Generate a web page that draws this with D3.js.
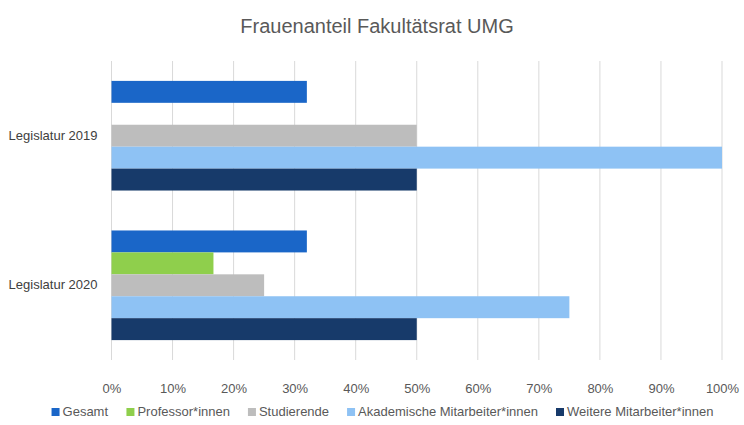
<!DOCTYPE html>
<html>
<head>
<meta charset="utf-8">
<script src="https://cdn.jsdelivr.net/npm/d3@7"></script>
<style>
  body { margin: 0; background: #fff; }
  text { font-family: "Liberation Sans", Arial, sans-serif; }
</style>
</head>
<body>
<svg id="chart" width="744" height="425"></svg>
<script>
// data
var categories = ["Legislatur 2019", "Legislatur 2020"];
var seriesNames = ["Gesamt", "Professor*innen", "Studierende", "Akademische Mitarbeiter*innen", "Weitere Mitarbeiter*innen"];
var seriesColors = ["#1a66c8", "#8fcf4c", "#bdbdbd", "#8ec2f4", "#173a6a"];
var gesamt = [0.32, 0.32];
var professor = [0, 0.167];
var studierende = [0.5, 0.25];
var akademische = [1.0, 0.75];
var weitere = [0.5, 0.5];
var xTicks = [0, 0.1, 0.2, 0.3, 0.4, 0.5, 0.6, 0.7, 0.8, 0.9, 1.0];

var seriesValues = [gesamt, professor, studierende, akademische, weitere];

var width = 744,
    height = 425,
    margin = {top: 61, right: 22, bottom: 65, left: 111.5};

var svg = d3.select("#chart");

var x = d3.scaleLinear()
    .domain([0, 1])
    .range([margin.left, width - margin.right]);

var y0 = d3.scaleBand()
    .domain(categories)
    .range([margin.top, height - margin.bottom])
    .paddingInner(0.267)
    .paddingOuter(0.133);

var y1 = d3.scaleBand()
    .domain(d3.range(seriesNames.length))
    .range([0, y0.bandwidth()]);

//title
svg.append("text")
    .attr("x", 377)
    .attr("y", 33)
    .attr("text-anchor", "middle")
    .attr("font-size", 20)
    .attr("fill", "#595959")
    .text("Frauenanteil Fakultätsrat UMG");

//gridlines
svg.append("g")
    .selectAll("line")
    .data(xTicks)
    .join("line")
    .attr("x1", function (d) { return x(d); })
    .attr("x2", function (d) { return x(d); })
    .attr("y1", margin.top)
    .attr("y2", height - margin.bottom)
    .attr("stroke", "#d9d9d9")
    .attr("stroke-width", 1);

//bars
var rows = [];
categories.forEach(function (c, ci) {
    seriesValues.forEach(function (vals, si) {
        rows.push({cat: c, s: si, v: vals[ci]});
    });
});

svg.append("g")
    .selectAll("rect")
    .data(rows)
    .join("rect")
    .attr("x", x(0))
    .attr("y", function (d) { return y0(d.cat) + y1(d.s); })
    .attr("width", function (d) { return x(d.v) - x(0); })
    .attr("height", y1.bandwidth())
    .attr("fill", function (d) { return seriesColors[d.s]; });

//x axis labels
var xAxis = d3.axisBottom(x)
    .tickValues(xTicks)
    .tickFormat(d3.format(".0%"))
    .tickSize(0)
    .tickPadding(0);

var gx = svg.append("g")
    .attr("transform", "translate(0," + (height - margin.bottom + 24) + ")")
    .call(xAxis);
gx.select(".domain").remove();
gx.selectAll("text")
    .attr("font-size", 13)
    .attr("fill", "#595959")
    .attr("font-family", "Liberation Sans, Arial, sans-serif");

//category labels
var yAxis = d3.axisLeft(y0).tickSize(0).tickPadding(14);
var gy = svg.append("g")
    .attr("transform", "translate(" + margin.left + ",0)")
    .call(yAxis);
gy.select(".domain").remove();
gy.selectAll("text")
    .attr("font-size", 13)
    .attr("fill", "#404040")
    .attr("font-family", "Liberation Sans, Arial, sans-serif");

//legend
var legend = svg.append("g");
var items = legend.selectAll("g")
    .data(seriesNames)
    .join("g");
items.append("rect")
    .attr("width", 8)
    .attr("height", 8)
    .attr("y", -8)
    .attr("fill", function (d, i) { return seriesColors[i]; });
items.append("text")
    .attr("x", 11)
    .attr("font-size", 13)
    .attr("fill", "#595959")
    .text(function (d) { return d; });

var pos = 0, gap = 18, offsets = [];
items.each(function () {
    offsets.push(pos);
    pos += this.getBBox().width + gap;
});
var total = pos - gap,
    start = 382.5 - total / 2;
items.attr("transform", function (d, i) {
    return "translate(" + (start + offsets[i]) + ",416)";
});
</script>
</body>
</html>
